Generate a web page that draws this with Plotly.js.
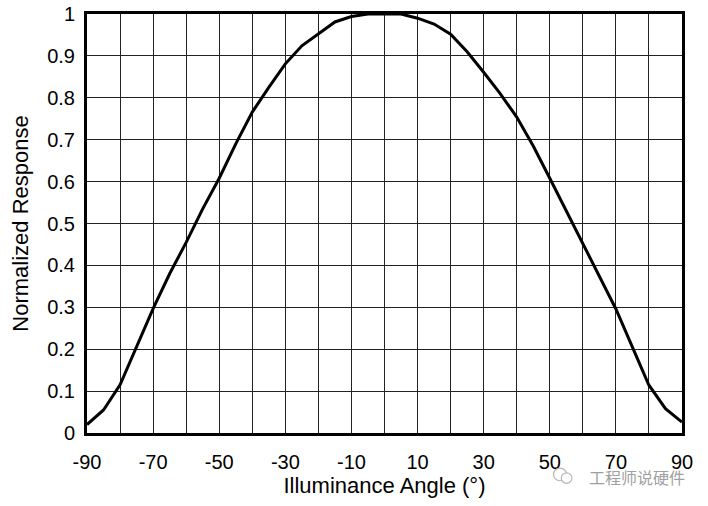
<!DOCTYPE html>
<html>
<head>
<meta charset="utf-8">
<script src="https://cdn.plot.ly/plotly-3.0.1.min.js"></script>
<style>html,body{margin:0;padding:0;background:#fff;}#chart{width:708px;height:506px;}</style>
</head>
<body>
<div id="chart"></div>
<script>
const angles = [-90,-85,-80,-75,-70,-65,-60,-55,-50,-45,-40,-35,-30,-25,-20,-15,-10,-5,0,5,10,15,20,25,30,35,40,45,50,55,60,65,70,75,80,85,90];
const response = [0.02,0.055,0.115,0.205,0.297,0.38,0.455,0.535,0.608,0.69,0.766,0.825,0.881,0.924,0.952,0.981,0.994,1.0,1.0,1.0,0.99,0.976,0.952,0.91,0.861,0.81,0.754,0.685,0.608,0.53,0.454,0.375,0.296,0.205,0.114,0.058,0.026];
const xTickVals = [-90,-70,-50,-30,-10,10,30,50,70,90];
const xMinorVals = [-80,-60,-40,-20,0,20,40,60,80];
const yTickVals = [0,0.1,0.2,0.3,0.4,0.5,0.6,0.7,0.8,0.9,1];
const yTickText = ['0','0.1','0.2','0.3','0.4','0.5','0.6','0.7','0.8','0.9','1'];

const trace = {
  x: angles, y: response, type: 'scatter', mode: 'lines',
  line: {color: '#000', width: 3}, hoverinfo: 'skip'
};
const tickFont = {family: 'Liberation Sans, Arial, sans-serif', size: 20, color: '#000'};
const titleFont = {family: 'Liberation Sans, Arial, sans-serif', size: 22, color: '#000'};
const layout = {
  width: 708, height: 506,
  margin: {l: 87, r: 26, t: 14, b: 73},
  paper_bgcolor: '#fff', plot_bgcolor: '#fff',
  showlegend: false,
  font: tickFont,
  xaxis: {
    range: [-90, 90], tickvals: xTickVals, ticktext: xTickVals.map(String),
    showgrid: true, gridcolor: '#222', gridwidth: 1,
    minor: {tickvals: xMinorVals, showgrid: true, gridcolor: '#222', gridwidth: 1, ticks: ''},
    showline: true, linecolor: '#000', linewidth: 3, mirror: true,
    ticks: '', ticklabelstandoff: 9, zeroline: false,
    tickfont: tickFont,
    title: {text: 'Illuminance Angle (°)', font: titleFont, standoff: 0}
  },
  yaxis: {
    range: [0, 1], tickvals: yTickVals, ticktext: yTickText,
    showgrid: true, gridcolor: '#222', gridwidth: 1,
    showline: true, linecolor: '#000', linewidth: 3, mirror: true,
    ticks: '', ticklabelstandoff: 5, zeroline: false,
    tickfont: tickFont,
    title: {text: 'Normalized Response', font: titleFont, standoff: 13}
  },
  shapes: [
    {type: 'circle', xref: 'paper', yref: 'paper', x0: 0.784, x1: 0.806, y0: -0.114, y1: -0.084, line: {color: '#b5b5b5', width: 1.2}},
    {type: 'circle', xref: 'paper', yref: 'paper', x0: 0.797, x1: 0.815, y0: -0.120, y1: -0.095, line: {color: '#b5b5b5', width: 1.2}, fillcolor: '#fff'}
  ],
  annotations: [{
    text: '工程师说硬件', xref: 'paper', yref: 'paper', x: 1.008, y: -0.106,
    xanchor: 'right', yanchor: 'middle', showarrow: false,
    font: {family: 'Noto Sans CJK SC, sans-serif', size: 16, color: '#a0a0a0'}
  }]
};
Plotly.newPlot('chart', [trace], layout, {displayModeBar: false, staticPlot: true});
</script>
</body>
</html>
